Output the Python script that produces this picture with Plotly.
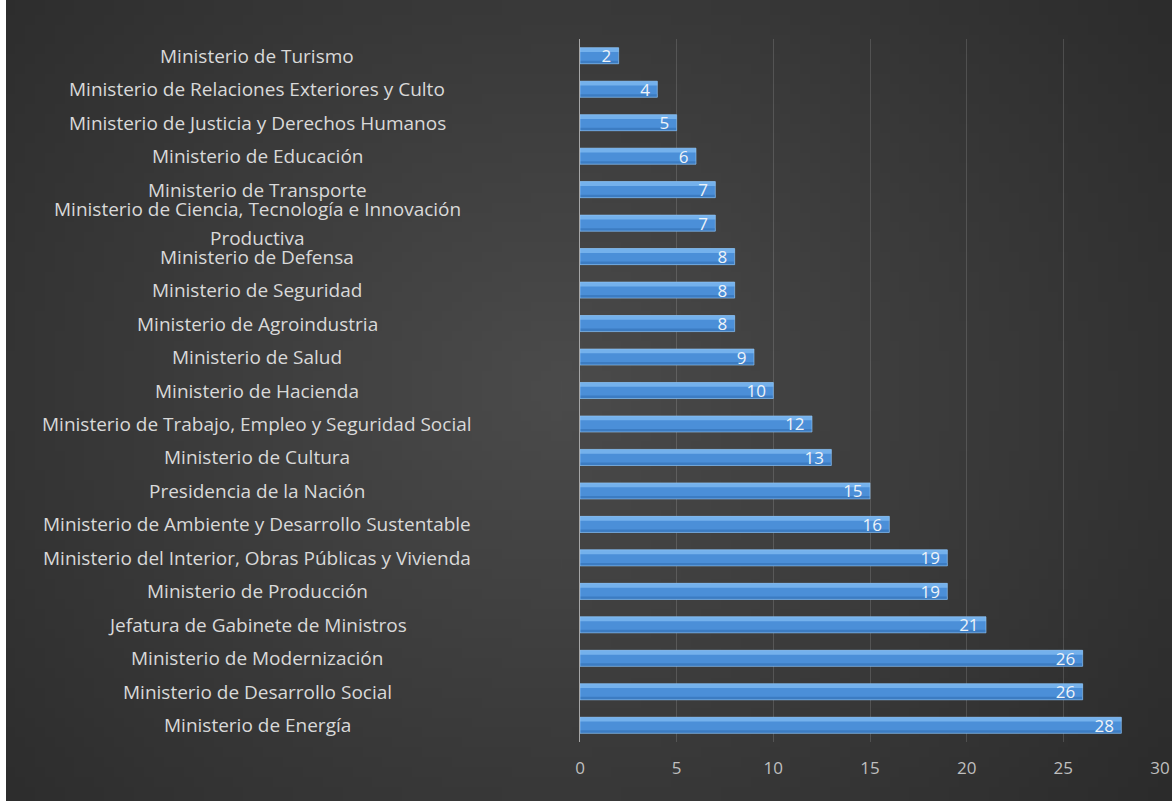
import base64, struct, zlib
import plotly.graph_objects as go

categories = [
    "Ministerio de Turismo",
    "Ministerio de Relaciones Exteriores y Culto",
    "Ministerio de Justicia y Derechos Humanos",
    "Ministerio de Educación",
    "Ministerio de Transporte",
    "Ministerio de Ciencia, Tecnología e Innovación<br>Productiva",
    "Ministerio de Defensa",
    "Ministerio de Seguridad",
    "Ministerio de Agroindustria",
    "Ministerio de Salud",
    "Ministerio de Hacienda",
    "Ministerio de Trabajo, Empleo y Seguridad Social",
    "Ministerio de Cultura",
    "Presidencia de la Nación",
    "Ministerio de Ambiente y Desarrollo Sustentable",
    "Ministerio del Interior, Obras Públicas y Vivienda",
    "Ministerio de Producción",
    "Jefatura de Gabinete de Ministros",
    "Ministerio de Modernización",
    "Ministerio de Desarrollo Social",
    "Ministerio de Energía",
]
values = [2, 4, 5, 6, 7, 7, 8, 8, 8, 9, 10, 12, 13, 15, 16, 19, 19, 21, 26, 26, 28]
x_ticks = [0, 5, 10, 15, 20, 25, 30]

W_PX, H_PX = 1172, 801
ML, MR, MT, MB = 580, 12, 39, 59
PW = W_PX - ML - MR
PH = H_PX - MT - MB
BAR_W = 0.48


def radial_png(w, h, cx, cy):
    rows = []
    for j in range(h):
        row = bytearray([0])
        for i in range(w):
            dx = (i / (w - 1) - cx) * 1.3
            dy = (j / (h - 1) - cy)
            d = min(1.0, (dx * dx + dy * dy) ** 0.5 / 0.85)
            v = int(round(0x4b - (0x4b - 0x2b) * d))
            row += bytes([v, v, v])
        rows.append(bytes(row))
    raw = b"".join(rows)

    def chunk(tag, data):
        c = struct.pack(">I", len(data)) + tag + data
        return c + struct.pack(">I", zlib.crc32(tag + data) & 0xFFFFFFFF)

    png = b"\x89PNG\r\n\x1a\n"
    png += chunk(b"IHDR", struct.pack(">IIBBBBB", w, h, 8, 2, 0, 0, 0))
    png += chunk(b"IDAT", zlib.compress(raw, 9))
    png += chunk(b"IEND", b"")
    return "data:image/png;base64," + base64.b64encode(png).decode()


bg = radial_png(118, 81, 560 / W_PX, 390 / H_PX)

fig = go.Figure()
# base bar
fig.add_trace(go.Bar(
    x=values, y=categories, orientation="h",
    width=BAR_W, offset=-BAR_W / 2,
    marker=dict(color="#4b8fd8", line=dict(width=0)),
    hoverinfo="skip",
))
# top highlight
fig.add_trace(go.Bar(
    x=values, y=categories, orientation="h",
    width=0.13, offset=-BAR_W / 2,
    marker=dict(color="#74b1ec", line=dict(width=0)),
    hoverinfo="skip",
))
# bottom shade
fig.add_trace(go.Bar(
    x=values, y=categories, orientation="h",
    width=0.09, offset=BAR_W / 2 - 0.09,
    marker=dict(color="#3c7cc2", line=dict(width=0)),
    hoverinfo="skip",
))
# text layer
fig.add_trace(go.Bar(
    x=values, y=categories, orientation="h",
    width=BAR_W, offset=-BAR_W / 2,
    marker=dict(color="rgba(0,0,0,0)", line=dict(color="rgba(150,200,245,0.6)", width=1)),
    text=[f"{v}\u00a0" for v in values],
    textposition="inside", insidetextanchor="end", textangle=0,
    constraintext="none",
    textfont=dict(family="Open Sans", size=17, color="#eef3f8"),
    hoverinfo="skip",
))

annotations = []
LINE_H = 29
for c in categories:
    lines = c.split("<br>")
    n = len(lines)
    for k, ln in enumerate(lines):
        annotations.append(dict(
            x=(257 - ML) / PW, xref="paper", y=c, yref="y",
            text=ln, showarrow=False, xanchor="center", yanchor="middle",
            yshift=((n - 1) / 2 - k) * LINE_H,
            font=dict(family="Open Sans", size=19, color="#d9d9d9"),
        ))

fig.update_layout(
    width=W_PX, height=H_PX,
    margin=dict(l=ML, r=MR, t=MT, b=MB, autoexpand=False),
    paper_bgcolor="#383838",
    plot_bgcolor="rgba(0,0,0,0)",
    barmode="overlay",
    showlegend=False,
    annotations=annotations,
    images=[dict(
        source=bg, xref="paper", yref="paper",
        x=-ML / PW, y=(PH + MT) / PH,
        sizex=W_PX / PW, sizey=H_PX / PH,
        xanchor="left", yanchor="top", sizing="stretch", layer="below",
    )],
    shapes=[dict(
        type="rect", xref="paper", yref="paper",
        x0=-ML / PW, x1=(-ML + 6) / PW, y0=-MB / PH, y1=(PH + MT) / PH,
        fillcolor="#ffffff", line=dict(width=0), layer="above",
    )],
    xaxis=dict(
        range=[0, 30], tickvals=x_ticks, ticktext=[str(t) for t in x_ticks],
        showgrid=True, gridcolor="rgba(255,255,255,0.14)", gridwidth=1,
        zeroline=False, showline=False, ticks="", automargin=False,
        tickfont=dict(family="Open Sans", size=17, color="#bfbfbf"),
        ticklabelstandoff=14,
    ),
    yaxis=dict(
        autorange="reversed", showticklabels=False, showgrid=False, automargin=False,
        showline=True, linecolor="#a6a6a6", linewidth=1, zeroline=False, ticks="",
    ),
)

fig.write_html("out.html")
